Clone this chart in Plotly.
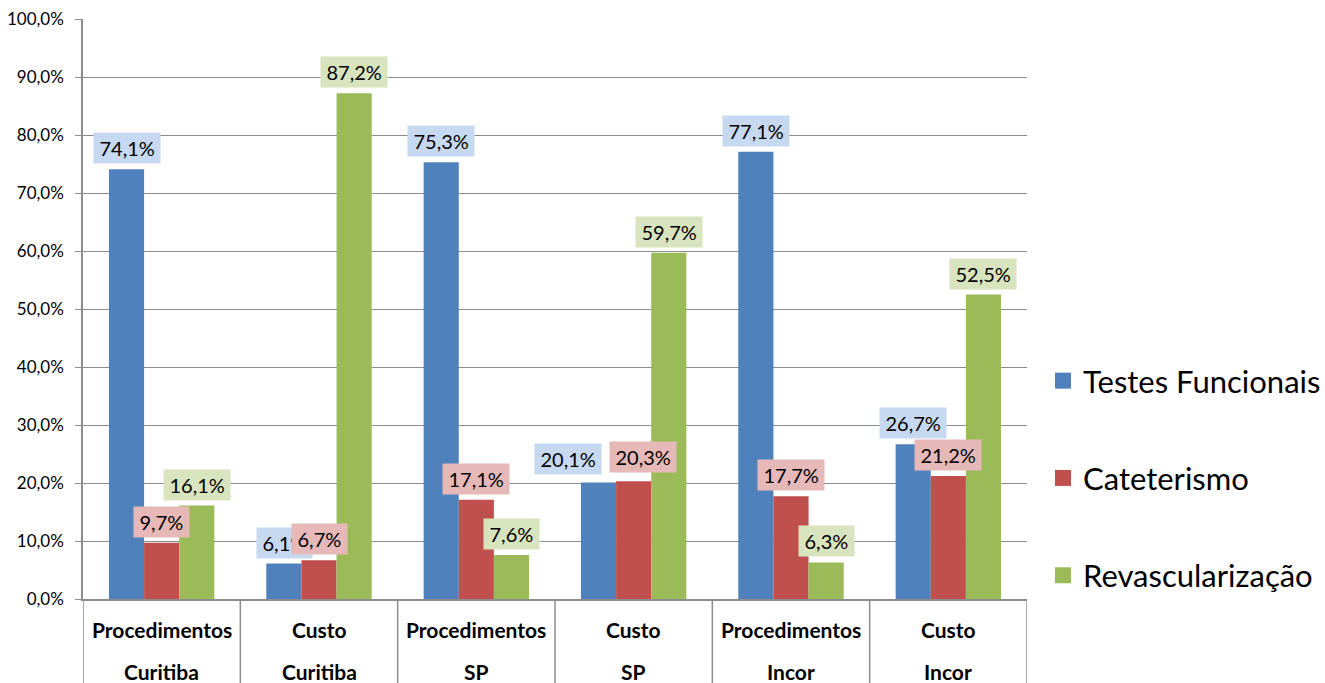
import plotly.graph_objects as go

category_line1 = ["Procedimentos", "Custo", "Procedimentos", "Custo", "Procedimentos", "Custo"]
category_line2 = ["Curitiba", "Curitiba", "SP", "SP", "Incor", "Incor"]
series_names = ["Testes Funcionais", "Cateterismo", "Revascularização"]
testes = [74.1, 6.1, 75.3, 20.1, 77.1, 26.7]
cateterismo = [9.7, 6.7, 17.1, 20.3, 17.7, 21.2]
revasc = [16.1, 87.2, 7.6, 59.7, 6.3, 52.5]
y_ticks = [0, 10, 20, 30, 40, 50, 60, 70, 80, 90, 100]
y_ticktext = [f"{v:.1f}%".replace(".", ",") for v in y_ticks]

bar_colors = ["#4F81BD", "#C0504D", "#9BBB59"]
label_bg = ["#C6D9F1", "#E6B9B8", "#D7E4BD"]
values = [testes, cateterismo, revasc]
cat_ids = list(range(len(category_line1)))

PLOT_H = 580.0
PLOT_W = 944.0

fig = go.Figure()
for name, vals, col in zip(series_names, values, bar_colors):
    fig.add_trace(go.Bar(x=cat_ids, y=vals, name=name, marker_color=col,
                         marker_line_width=0, showlegend=False))
# legend entries
for i, (name, col) in enumerate(zip(series_names, bar_colors)):
    fig.add_trace(go.Scatter(x=[None], y=[None], mode="markers", name=name,
                             marker=dict(symbol="square", size=16, color=col),
                             legendgroup=f"g{i}"))

# data labels (a couple were nudged sideways in the original)
offsets = [-35, 0, 35]
label_nudge = {(0, 3): (-31, 2), (1, 3): (9, 3)}
annotations = []
for s, (vals, bg) in enumerate(zip(values, label_bg)):
    for i, v in enumerate(vals):
        dx, dy = label_nudge.get((s, i), (0, 0))
        annotations.append(dict(
            x=i, y=v, xref="x", yref="y", xshift=offsets[s] + dx, yshift=5 + dy,
            text="\u2009" + f"{v:.1f}%".replace(".", ",") + "\u2009", showarrow=False,
            yanchor="bottom", xanchor="center", bgcolor=bg, borderpad=3,
            font=dict(family="Lato", size=20, color="#000000")))

# category labels (two lines, wide spacing)
for i in cat_ids:
    annotations.append(dict(x=i, y=-(629 - 599) / PLOT_H, xref="x", yref="paper",
                            text=f"<b>{category_line1[i]}</b>", showarrow=False,
                            xanchor="center", yanchor="middle",
                            font=dict(family="Lato", size=21, color="#000000")))
    annotations.append(dict(x=i, y=-(671 - 599) / PLOT_H, xref="x", yref="paper",
                            text=f"<b>{category_line2[i]}</b>", showarrow=False,
                            xanchor="center", yanchor="middle",
                            font=dict(family="Lato", size=21, color="#000000")))

shapes = []
for k in range(len(cat_ids) + 1):
    shapes.append(dict(type="line", xref="x", yref="paper", x0=k - 0.5, x1=k - 0.5,
                       y0=0, y1=-84 / PLOT_H, line=dict(color="#8C8C8C", width=1.5)))

fig.update_layout(
    width=1325, height=683,
    margin=dict(l=83, r=298, t=19, b=84, autoexpand=False),
    paper_bgcolor="white", plot_bgcolor="white",
    barmode="group", bargap=0.33, bargroupgap=0,
    font=dict(family="Lato", color="#000000"),
    xaxis=dict(tickmode="array", tickvals=cat_ids, ticktext=["" for _ in cat_ids],
               range=[-0.5, len(cat_ids) - 0.5], automargin=False,
               showgrid=False, showline=True, linecolor="#8C8C8C", linewidth=1.5,
               ticks="", zeroline=False),
    yaxis=dict(range=[0, 100], tickmode="array", tickvals=y_ticks, ticktext=y_ticktext,
               automargin=False,
               tickfont=dict(family="Lato", size=17, color="#000000"),
               ticklabelstandoff=8,
               showgrid=True, gridcolor="#8C8C8C", gridwidth=1,
               showline=True, linecolor="#8C8C8C", linewidth=1.5,
               ticks="outside", ticklen=6, tickcolor="#8C8C8C", zeroline=False),
    legend=dict(x=1 + (1043 - 1027) / PLOT_W, y=(599 - 478) / PLOT_H,
                xanchor="left", yanchor="middle",
                font=dict(family="Lato", size=31, color="#000000"),
                traceorder="grouped", tracegroupgap=54, itemwidth=30,
                bgcolor="rgba(0,0,0,0)"),
    annotations=annotations, shapes=shapes,
)

fig.write_html("out.html")
